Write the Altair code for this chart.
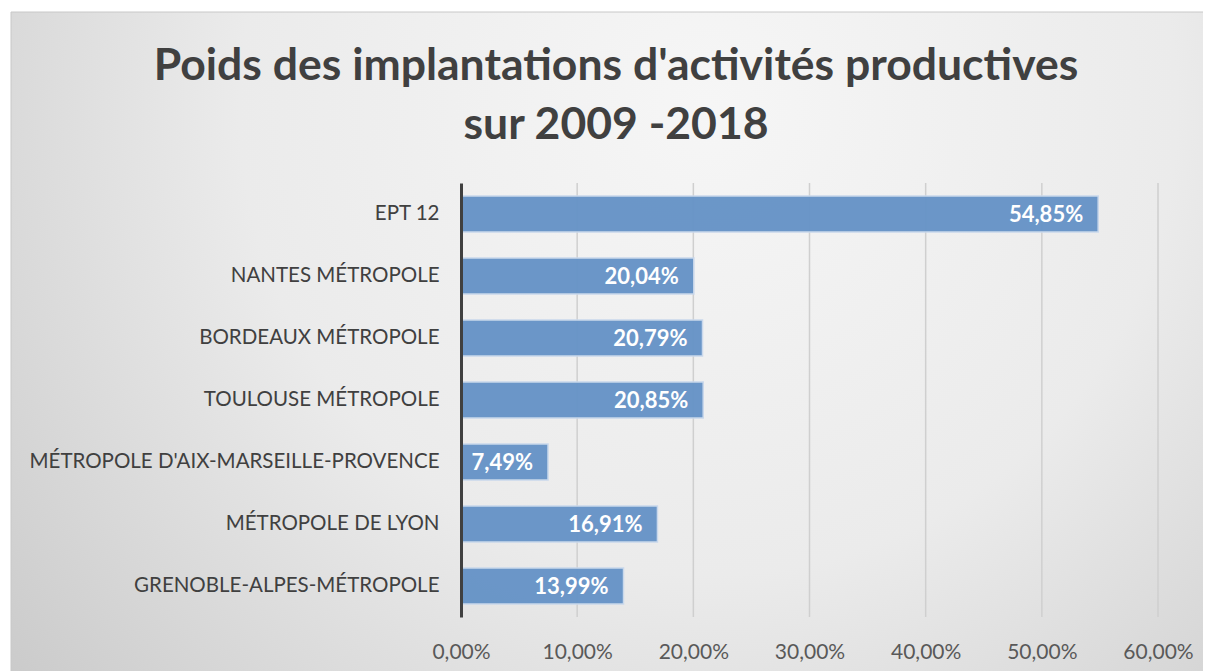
import altair as alt
import pandas as pd

categories = [
    "EPT 12",
    "NANTES MÉTROPOLE",
    "BORDEAUX MÉTROPOLE",
    "TOULOUSE MÉTROPOLE",
    "MÉTROPOLE D'AIX-MARSEILLE-PROVENCE",
    "MÉTROPOLE DE LYON",
    "GRENOBLE-ALPES-MÉTROPOLE",
]
values = [0.5485, 0.2004, 0.2079, 0.2085, 0.0749, 0.1691, 0.1399]
tick_values = [0.1, 0.2, 0.3, 0.4, 0.5, 0.6]
title_lines = ["Poids des implantations d'activités productives", "sur 2009 -2018"]

df = pd.DataFrame({"cat": categories, "val": values})
grid_df = pd.DataFrame({"t": tick_values})
one = pd.DataFrame({"a": [0]})

PW, PH = 697, 434
PL, PT, PR, PB = 453, 175, 45, 54

bg = alt.Chart(one).mark_rect(
    fill=alt.RadialGradient(
        gradient="radial",
        x1=0.58, y1=0.3, r1=0.0,
        x2=0.58, y2=0.3, r2=0.78,
        stops=[
            alt.GradientStop(offset=0, color="#f6f6f6"),
            alt.GradientStop(offset=0.5, color="#ebebeb"),
            alt.GradientStop(offset=1, color="#c8c8c8"),
        ],
    ),
    stroke="#c8c8c8",
    strokeWidth=1,
).encode(
    x=alt.value(-PL + 3),
    x2=alt.value(PW + PR + 10),
    y=alt.value(-PT + 4),
    y2=alt.value(PH + PB + 10),
)

title = alt.Chart(one).mark_text(
    text=title_lines,
    font="Lato",
    fontSize=44.5,
    fontWeight="bold",
    color="#404040",
    align="center",
    baseline="alphabetic",
    lineHeight=59,
).encode(
    x=alt.value(616 - 8 - PL),
    y=alt.value(80 - 8 - PT),
)

x_scale = alt.Scale(domain=[0, 0.6], nice=False)

grid = alt.Chart(grid_df).mark_rule(color="#cfcfcf", strokeWidth=1.5).encode(
    x=alt.X("t:Q", scale=x_scale),
    y=alt.value(0),
    y2=alt.value(PH),
)

y_enc = alt.Y(
    "cat:N",
    sort=categories,
    scale=alt.Scale(paddingInner=0.42, paddingOuter=0.21),
    axis=alt.Axis(
        title=None,
        ticks=False,
        domain=True,
        domainColor="#404040",
        domainWidth=3,
        labelFont="Lato",
        labelFontSize=20.5,
        labelColor="#404040",
        labelPadding=22,
        labelLimit=500,
        grid=False,
        zindex=1,
    ),
)

x_enc = alt.X(
    "val:Q",
    scale=x_scale,
    axis=alt.Axis(
        title=None,
        values=[0, 0.1, 0.2, 0.3, 0.4, 0.5, 0.6],
        labelExpr="replace(format(datum.value, '.2%'), '.', ',')",
        ticks=False,
        domain=False,
        grid=False,
        labelFlush=False,
        labelFont="Lato",
        labelFontSize=21,
        labelColor="#595959",
        labelPadding=24,
        zindex=1,
    ),
)

bars = alt.Chart(df).mark_bar(
    color="#6794c7", stroke="#c9d8ec", strokeWidth=1.5, opacity=0.97
).encode(x=x_enc, y=y_enc)

labels = alt.Chart(df).transform_calculate(
    lbl="replace(format(datum.val, '.2%'), '.', ',')"
).mark_text(
    align="right", baseline="middle", dx=-15, dy=1,
    font="Lato", fontSize=22, fontWeight="bold", color="white"
).encode(
    x="val:Q",
    y=alt.Y("cat:N", sort=categories),
    text="lbl:N",
)

chart = alt.layer(bg, title, grid, bars, labels).properties(
    width=PW,
    height=PH,
    padding={"left": PL, "top": PT, "right": PR, "bottom": PB},
    autosize=alt.AutoSizeParams(type="none"),
).configure_view(stroke=None).configure(background="white")

chart.save("out.html", embed_options={"renderer": "svg", "actions": False})
